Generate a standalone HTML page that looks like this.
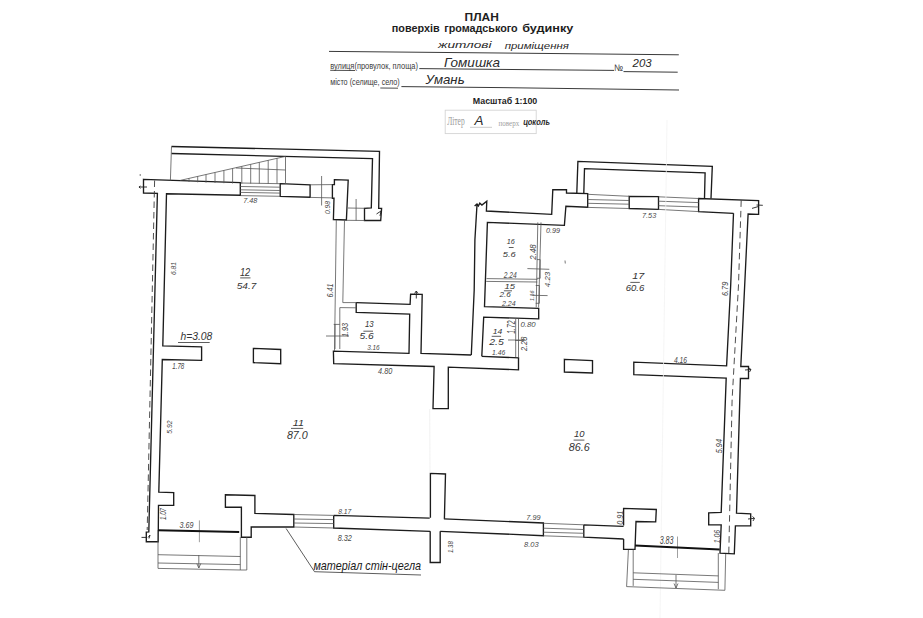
<!DOCTYPE html>
<html><head><meta charset="utf-8">
<style>
html,body{margin:0;padding:0;background:#fff;}
body{width:923px;height:618px;overflow:hidden;position:relative;}
svg{position:absolute;left:0;top:0;}

</style></head><body>
<svg width="923" height="618" viewBox="0 0 923 618" font-family="Liberation Sans, sans-serif">
<rect width="923" height="618" fill="#fff"/>

<!-- HEADER -->
<g id="header">
<text x="464.6" y="21.4" font-size="11" font-weight="bold" fill="#1e1e1e" textLength="34.2" lengthAdjust="spacingAndGlyphs">ПЛАН</text>
<g font-size="10.8" font-weight="bold" fill="#1e1e1e">
<text x="391.8" y="31.8" textLength="47.8" lengthAdjust="spacingAndGlyphs">поверхів</text>
<text x="444.2" y="31.8" textLength="73.5" lengthAdjust="spacingAndGlyphs">громадського</text>
<text x="522.2" y="31.8" textLength="51.2" lengthAdjust="spacingAndGlyphs">будинку</text>
</g>
<path d="M329,51.4 L500,53 L678.8,54.8" stroke="#3a3a3a" stroke-width="1" fill="none"/>
<g font-size="9.4" fill="#3a3a3a">
<text x="330.2" y="69.1" textLength="87.8" lengthAdjust="spacingAndGlyphs">вулиця(провулок, площа)</text>
<text x="330.2" y="85.3" textLength="69.6" lengthAdjust="spacingAndGlyphs">місто (селище, село)</text>
<text x="614" y="70.6" textLength="9" lengthAdjust="spacingAndGlyphs">№</text>
</g>
<path d="M330.2,70.3 L355,70.5 M380.3,88 L398,88.2" stroke="#3a3a3a" stroke-width="0.9" fill="none"/>
<path d="M419.3,68.6 L500,69.4 L614,70.4 M623.5,71.6 L677.7,72.2" stroke="#3a3a3a" stroke-width="1" fill="none"/>
<path d="M401.4,86.6 L500,87.6 L679,90" stroke="#3a3a3a" stroke-width="1" fill="none"/>
<text x="472.8" y="103.9" font-size="9.1" font-weight="bold" fill="#1e1e1e" textLength="64.5" lengthAdjust="spacingAndGlyphs">Масштаб 1:100</text>
<rect x="445.2" y="110.2" width="91" height="23.4" fill="none" stroke="#d4d4d4" stroke-width="0.9"/>
<text x="447.2" y="125.3" font-size="12" fill="#9a9a9a" font-family="Liberation Serif" textLength="17.5" lengthAdjust="spacingAndGlyphs">Літер</text>
<text x="498.5" y="125.8" font-size="9" fill="#a0a0a0" font-family="Liberation Serif" textLength="20.8" lengthAdjust="spacingAndGlyphs">поверх</text>
<path d="M470,127.3 L492,127.3" stroke="#aaa" stroke-width="0.6"/>
<!-- handwriting -->
<g font-style="italic" fill="#2a2a2a" font-family="Liberation Sans">
<text x="438" y="48.2" font-size="9" textLength="53.5" lengthAdjust="spacingAndGlyphs">житлові</text>
<text x="504.7" y="49" font-size="9" textLength="64.2" lengthAdjust="spacingAndGlyphs">приміщення</text>
<text x="444" y="66.5" font-size="13.5" textLength="56" lengthAdjust="spacingAndGlyphs">Гомишка</text>
<text x="632.6" y="67" font-size="10" textLength="19" lengthAdjust="spacingAndGlyphs">203</text>
<text x="425.6" y="84" font-size="13" textLength="39" lengthAdjust="spacingAndGlyphs">Умань</text>
<text x="474.5" y="124.5" font-size="12" textLength="9" lengthAdjust="spacingAndGlyphs">А</text>
<text x="523.2" y="124.5" font-size="9" font-weight="bold" textLength="26.7" lengthAdjust="spacingAndGlyphs">цоколь</text>
</g>
</g>

<!-- THICK WALLS -->
<g fill="none" stroke="#1c1c1c" stroke-width="1.35" stroke-linejoin="miter">
<!-- left building: top-left block, left wall inner, stubs -->
<path d="M143.5,179.3 L240.3,182.6 L240.3,195.2 L166.5,193.8 L162.8,345.8 L201.6,346.9 L201.6,360.4 L162.3,359.5 L158.8,492.2 L173.7,492.6 L173.7,505.3 L158.5,505.3 L158.2,541.7 L146.3,541.7 L146.3,532.2 L148.8,532 L157.4,193.3 L143.5,193 Z"/>
<path d="M141.5,537.4 L146.3,537.4 M148,537.5 L150,535 L149,538.5" stroke-width="0.9"/>
<path d="M280.2,183.7 L310.1,184.8 L310.1,197.2 L280.2,196.3 Z"/>
<path d="M334.4,179.7 L348.2,180.2 L346.4,220 L333.4,219.5 L334,198.2 L332.4,198.2 L332.4,184.6 L334.4,184.6 Z"/>
<!-- stair box -->
<path d="M171.5,146.5 L379.5,151.4 L378.7,208.3 L381.6,208.3 L380.7,220.5 L364.5,220.5 L364.5,208.3 L371.3,207.9 L372.5,158.6 L171.5,153.5"/>
<!-- room 13 walls -->
<path d="M356.2,302.6 L410.1,304.3 L410.6,294.2 L422.2,294.4 L421,353.4 L471.2,355"/>
<path d="M356.2,302.6 L356.2,312.4 L409.7,314.1 L409,353.4 L333.4,351.2 L333.7,363.7 L434.1,366.5 L433,408.6 L448.3,408.6 L448.3,367.2 L518.5,369.8 L518.5,357.8 L481.8,356.3"/>
<!-- pillar left -->
<path d="M253.4,348.4 L280.7,349.5 L280.7,363.7 L253.4,362.6 Z"/>
<!-- middle lower wall -->
<path d="M430.4,517.7 L430.4,473.4 L445.5,474 L444.4,518.8"/>
<path d="M430.2,531.3 L430.2,562.5 L440.2,562.5 L440.2,531.3"/>
<!-- bottom wall left piece -->
<path d="M293.8,514.5 L254.9,513.4 L254.9,495.5 L225.4,494.8 L225.4,507.2 L241.4,507.2 L241.4,537.2 L251.2,537.2 L251.2,527 L293.8,527 Z"/>
<path d="M333.7,515.4 L429.7,518.2 M333.7,515.4 L333.7,528 L430.2,531.3 M443.9,518.9 L543.4,523 L543.4,535.7 L440.2,531.3"/>
<path d="M583.8,524.8 L623.6,526.3 M583.8,524.8 L583.8,537.2 L623.6,539"/>
<path d="M623.6,525.4 L623.6,508.4 L656.3,509.5 L655.7,521.9 L636,521.5 L635,549.4 L623.6,549.4 L623.6,539"/>
<!-- right wall -->
<path d="M733.5,213.3 L730.7,285 L726.6,365.9 L633.8,362.2 L633.8,374.6 L726.2,378.1 L721.2,512.3 L708.7,512.8 L708.7,524.8 L721.2,524.8 L720,553.1 L734.3,553.8 L735.4,525.9 L750.7,525.9 L750.7,513.8 L736.5,513.2 L740.4,378.5 L748.5,378.5 L748.5,366.5 L740.8,366.5 L748.1,214 L758.6,214.4 L758.6,200.7 L698.6,198.5 L698.6,211.6 L733.5,213.3"/>
<!-- pillar right -->
<path d="M564.4,359.3 L592.5,360.6 L592.5,373 L564.4,372 Z"/>
<!-- right building left wall -->
<path d="M471.3,355 L474.2,290 L474.9,240 L477,204.6 M474.6,206 L477,204 L478.4,206 L479.8,203.2 L481.9,205 L486.8,201.1 L486.4,211 L551.7,214.4 L552.8,189.7 L566.5,189.7 L566.5,193 L587.7,193.7 L587.7,207.2 L565.9,206.3 L564.4,225.3 L487.4,222.4 L484.5,306.6 L538.7,308.3 L538.7,318.8 L483.7,317.2 L481.8,356.3"/>
<path d="M629.2,196.3 L658.5,196.7 L658.5,209.4 L629.2,208.5 Z"/>
<!-- balcony box -->
<path d="M576.8,193 L577.9,161.4 L712.3,166.4 L711,198.5 M583.8,193 L584.5,168.6 L705.1,172.9 L704.5,198.5"/>
</g>

<!-- THIN LINES -->
<g fill="none" stroke="#555" stroke-width="0.8">
<!-- stairs top-left -->
<path d="M180.2,180.4 L285.5,156.4 L285.5,183.7 M170.4,180.4 L171.5,146.5"/>
<path d="M189,178.4 L189,182 M197.7,176.4 L197.7,182.3 M206,174.5 L206,182.6 M215,172.5 L215,182.9 M223.9,170.4 L223.9,183.2 M232.6,168.4 L232.6,183.5 M241.8,166.3 L241.8,183.6 M250.7,164.3 L250.7,183.6 M259.3,162.3 L259.3,183.6 M268.2,160.3 L268.2,183.7 M277,158.3 L277,183.7"/>
<path d="M236,168 L285.5,170"/>
<!-- window top-left -->
<path d="M240.3,183 L280.2,183.7 M240.3,186.5 L280.2,187.2 M240.3,189.8 L280.2,190.5 M240.3,192.4 L280.2,193.1 M240.3,195.6 L280.2,196.3"/>
<path d="M310.1,184.8 L332.4,184.6 M310.1,197.4 L332.4,197.9 M321.6,176 L321.6,205.5"/>
<path d="M348,208 L364.5,208.3 M346.4,220.3 L364.5,220.5 M356.1,199 L356.1,220.5"/>
<!-- partition double line -->
<path d="M336.3,220 L335.2,302 L334.5,351 M344.5,220 L342.8,302.6 L356.2,302.6"/>
<!-- room 13 door -->
<path d="M339.8,307.6 L339.8,349 M339.8,307.6 L356.2,307.8 M333.7,324.4 L339.8,324.4 M326,336 L349,336 M335,324 L335,349"/>
<!-- window bottom-left -->
<path d="M293.8,514.5 L333.7,515.4 M293.8,519 L333.7,519.6 M293.8,523 L333.7,523.6 M293.8,527 L333.7,528"/>
<path d="M543.4,523.3 L583.8,524.8 M543.4,528.2 L583.8,529.5 M543.4,532.2 L583.8,533.3 M543.4,535.8 L583.8,537.2"/>
<!-- window top-right -->
<path d="M587.7,194.3 L629.2,196.3 M587.7,199.5 L629.2,200.5 M587.7,203.3 L629.2,204.2 M587.7,207.4 L629.2,208.5"/>
<path d="M658.5,196.8 L698.6,198.5 M658.5,201.2 L698.6,202.6 M658.5,205.7 L698.6,207 M658.5,209.4 L698.6,211.6"/>
<!-- rooms 16/15/14 partitions -->
<path d="M537.8,222.4 L536.2,307.4 M541,222.4 L538.6,307.4 M486.5,278.6 L537.5,279.3 M486.2,281.4 L537.3,282 M537,259.6 L540.2,259.6 L540.2,278.3 L537,278.3 M535.7,285.5 L539.4,285.5 L539.4,303.3 L535.7,303.3"/>
<path d="M515.7,319 L515.7,357 M518.5,319 L518.5,357"/>
<path d="M527.4,268.6 L549.3,269.3 M531.4,295.3 L547.6,295.6 M515,340.5 L524,340.5 M508,340 L525,340"/>
<!-- faint middle line -->
<path d="M429.7,409 L430,473" stroke="#eee"/><path d="M667,120 L660,618" stroke="#f2f2f2"/>
<!-- stairs bottom-left -->
<path d="M158,530 L158,568.4 L240.3,570 M158,554.7 L240.3,556.5 M158,563 L240.3,564.6 M240.3,537.2 L240.3,570 M246.8,537.2 L246.8,570 L240.3,570"/>
<path d="M198.8,555 L198.8,568 M196.8,563.5 L198.8,568 L200.8,563.5"/>
<path d="M199.4,520.4 L199.4,542.2" stroke="#888"/>
<!-- stairs bottom-right -->
<path d="M628.4,549.9 L626.6,586.6 L724.9,590.3 L725.7,554 M633.2,549.5 L633.2,585.9 M718.3,553 L718.3,589.2 M633.2,572.8 L718.3,575.9 M633.2,579.3 L718.3,582.4"/>
<path d="M676,575 L676,588 M674,583.5 L676,588 L678,583.5"/>
<path d="M677.5,536.5 L677.5,558" stroke="#888"/>
<!-- leader -->
<path d="M286.1,528.5 L314.5,571.7 L421,575" stroke="#333"/>
</g>
<!-- thresholds -->
<path d="M158,530.2 L239.2,532 M635,545.5 L719.7,549.4" stroke="#111" stroke-width="2" fill="none"/>
<!-- dashed outer lines -->
<g fill="none" stroke="#3a3a3a" stroke-width="0.9" stroke-dasharray="6.5,4">
<path d="M154.6,180.5 L147.2,530"/>
<path d="M741.2,200.4 L738.5,285 L732.1,400 L728.8,553"/>
</g>

<!-- break symbols -->
<g fill="none" stroke="#222" stroke-width="0.9">
<path d="M138.9,187 L147,187 M140.5,186 L139,187 L140.5,188.4"/>
<path d="M752,208.4 L758.8,206.4 M756.5,205 L762.8,205.3"/>
<path d="M376.5,214 L381,211 L380,216"/>
<path d="M416.3,291 L416.3,298.5 M414.5,293.5 L416.3,291 L418,293.5"/>
<path d="M745,370 L751,369.5 M749,368 L751,369.5 L749.5,372"/>
<path d="M748,519 L754.5,518.3 M752.5,516.5 L754.5,518.3 L753,521"/>
</g>
<circle cx="140.2" cy="175" r="0.7" fill="#444"/>
<path d="M565,260.5 L565.3,263.5" stroke="#555" stroke-width="0.8"/>
<!-- LABELS -->
<g font-style="italic" fill="#474747">
<text x="243.2" y="203.3" font-size="7.5" textLength="14.2" lengthAdjust="spacingAndGlyphs">7.48</text>
<text x="642.0" y="217.7" font-size="7.6" textLength="14.2" lengthAdjust="spacingAndGlyphs">7.53</text>
<text x="545.9" y="233.4" font-size="7.5" textLength="14.2" lengthAdjust="spacingAndGlyphs">0.99</text>
<text x="378.1" y="374.2" font-size="9.2" textLength="14.2" lengthAdjust="spacingAndGlyphs">4.80</text>
<text x="673.9" y="363.3" font-size="9.2" textLength="13.1" lengthAdjust="spacingAndGlyphs">4.16</text>
<text x="172.3" y="368.7" font-size="8.5" textLength="12.0" lengthAdjust="spacingAndGlyphs">1.78</text>
<text x="367.2" y="350.2" font-size="7.6" textLength="12.5" lengthAdjust="spacingAndGlyphs">3.16</text>
<text x="338.2" y="513.8" font-size="8.1" textLength="13.1" lengthAdjust="spacingAndGlyphs">8.17</text>
<text x="337.7" y="540.7" font-size="8.5" textLength="14.2" lengthAdjust="spacingAndGlyphs">8.32</text>
<text x="526.3" y="520.4" font-size="7.5" textLength="14.2" lengthAdjust="spacingAndGlyphs">7.99</text>
<text x="524.1" y="547.2" font-size="7.8" textLength="14.6" lengthAdjust="spacingAndGlyphs">8.03</text>
<text x="179.5" y="528.0" font-size="8.3" textLength="14.0" lengthAdjust="spacingAndGlyphs">3.69</text>
<text x="659.7" y="544.4" font-size="10.0" textLength="13.8" lengthAdjust="spacingAndGlyphs">3.83</text>
<text x="503.7" y="277.5" font-size="9.0" textLength="13.0" lengthAdjust="spacingAndGlyphs">2.24</text>
<text x="502.0" y="305.8" font-size="7.8" textLength="13.7" lengthAdjust="spacingAndGlyphs">2.24</text>
<text x="520.5" y="327.1" font-size="8.1" textLength="15.2" lengthAdjust="spacingAndGlyphs">0.80</text>
<text x="492.1" y="354.8" font-size="8.1" textLength="13.1" lengthAdjust="spacingAndGlyphs">1.46</text>
<text transform="translate(176.2,275.0) rotate(-90)" font-size="7.6" textLength="13.0" lengthAdjust="spacingAndGlyphs">6.81</text>
<text transform="translate(171.5,433.7) rotate(-90)" font-size="7.6" textLength="13.1" lengthAdjust="spacingAndGlyphs">5.92</text>
<text transform="translate(166.0,520.0) rotate(-90)" font-size="8.3" textLength="12.0" lengthAdjust="spacingAndGlyphs">1.07</text>
<text transform="translate(333,297.6) rotate(-90)" font-size="9.3" textLength="14.2" lengthAdjust="spacingAndGlyphs">6.41</text>
<text transform="translate(347.9,337.0) rotate(-90)" font-size="9.2" textLength="14.1" lengthAdjust="spacingAndGlyphs">1.93</text>
<text transform="translate(330.0,214.0) rotate(-90)" font-size="6.9" textLength="13.0" lengthAdjust="spacingAndGlyphs">0.98</text>
<text transform="translate(535.5,259.7) rotate(-90)" font-size="9.0" textLength="15.4" lengthAdjust="spacingAndGlyphs">2.48</text>
<text transform="translate(550.0,287.2) rotate(-90)" font-size="7.8" textLength="15.4" lengthAdjust="spacingAndGlyphs">4.23</text>
<text transform="translate(533.9,301.0) rotate(-90)" font-size="5.7" textLength="10.6" lengthAdjust="spacingAndGlyphs">1.16</text>
<text transform="translate(515.0,333.7) rotate(-90)" font-size="10.1" textLength="13.1" lengthAdjust="spacingAndGlyphs">1.72</text>
<text transform="translate(527.3,351.1) rotate(-90)" font-size="9.0" textLength="14.5" lengthAdjust="spacingAndGlyphs">2.28</text>
<text transform="translate(728.3,296) rotate(-90)" font-size="9.2" textLength="14.2" lengthAdjust="spacingAndGlyphs">6.79</text>
<text transform="translate(722.3,453.3) rotate(-90)" font-size="9.2" textLength="14.3" lengthAdjust="spacingAndGlyphs">5.94</text>
<text transform="translate(623.0,524.8) rotate(-90)" font-size="9.2" textLength="14.2" lengthAdjust="spacingAndGlyphs">0.91</text>
<text transform="translate(719.7,543.3) rotate(-90)" font-size="9.3" textLength="13.5" lengthAdjust="spacingAndGlyphs">1.06</text>
<text transform="translate(452.7,553.1) rotate(-90)" font-size="7.6" textLength="12.0" lengthAdjust="spacingAndGlyphs">1.38</text>
</g>
<g font-style="italic" fill="#333">
<text x="239.9" y="276.0" font-size="10.7" textLength="10.3" lengthAdjust="spacingAndGlyphs">12</text>
<text x="236.7" y="289.0" font-size="9.0" textLength="19.6" lengthAdjust="spacingAndGlyphs">54.7</text>
<text x="365.0" y="327.2" font-size="9.0" textLength="8.7" lengthAdjust="spacingAndGlyphs">13</text>
<text x="359.6" y="339.2" font-size="9.0" textLength="14.1" lengthAdjust="spacingAndGlyphs">5.6</text>
<text x="292.8" y="425.9" font-size="8.4" textLength="11.1" lengthAdjust="spacingAndGlyphs">11</text>
<text x="286.9" y="438.6" font-size="10.3" textLength="20.9" lengthAdjust="spacingAndGlyphs">87.0</text>
<text x="574.1" y="437" font-size="8.4" textLength="10.5" lengthAdjust="spacingAndGlyphs">10</text>
<text x="568.7" y="450.9" font-size="11.4" textLength="21" lengthAdjust="spacingAndGlyphs">86.6</text>
<text x="632.2" y="279.2" font-size="9.2" textLength="12.0" lengthAdjust="spacingAndGlyphs">17</text>
<text x="625.7" y="291.2" font-size="8.6" textLength="18.5" lengthAdjust="spacingAndGlyphs">60.6</text>
<text x="506.7" y="244.3" font-size="7.9" textLength="8.0" lengthAdjust="spacingAndGlyphs">16</text>
<text x="502.7" y="257.2" font-size="7.8" textLength="13.0" lengthAdjust="spacingAndGlyphs">5.6</text>
<text x="504.4" y="288.8" font-size="8.1" textLength="10.5" lengthAdjust="spacingAndGlyphs">15</text>
<text x="499.6" y="297.0" font-size="6.9" textLength="11.3" lengthAdjust="spacingAndGlyphs">2.6</text>
<text x="492.8" y="334.4" font-size="8.1" textLength="9.5" lengthAdjust="spacingAndGlyphs">14</text>
<text x="489.2" y="345.3" font-size="9.0" textLength="14.5" lengthAdjust="spacingAndGlyphs">2.5</text>
<text x="180.4" y="339.8" font-size="11.5" textLength="31.9" lengthAdjust="spacingAndGlyphs">h=3.08</text>
<text x="313.4" y="569.7" font-size="13.4" fill="#1a1a1a" textLength="107.7" lengthAdjust="spacingAndGlyphs">матеріал стін-цегла</text>
</g>
<g stroke="#333" stroke-width="0.8">
<path d="M240.2,277.9 L250.5,277.9 M363.4,331.2 L373,331.2 M178,342.5 L209.7,342.5 M291,428.4 L303.2,428.4 M573.6,440.1 L584.4,440.1 M630.3,282.4 L639.8,282.4 M508.8,247.5 L513.6,247.5 M503.9,290.8 L512,290.8 M491.7,336.3 L501.1,336.3"/>
</g>
</svg>
</body></html>
